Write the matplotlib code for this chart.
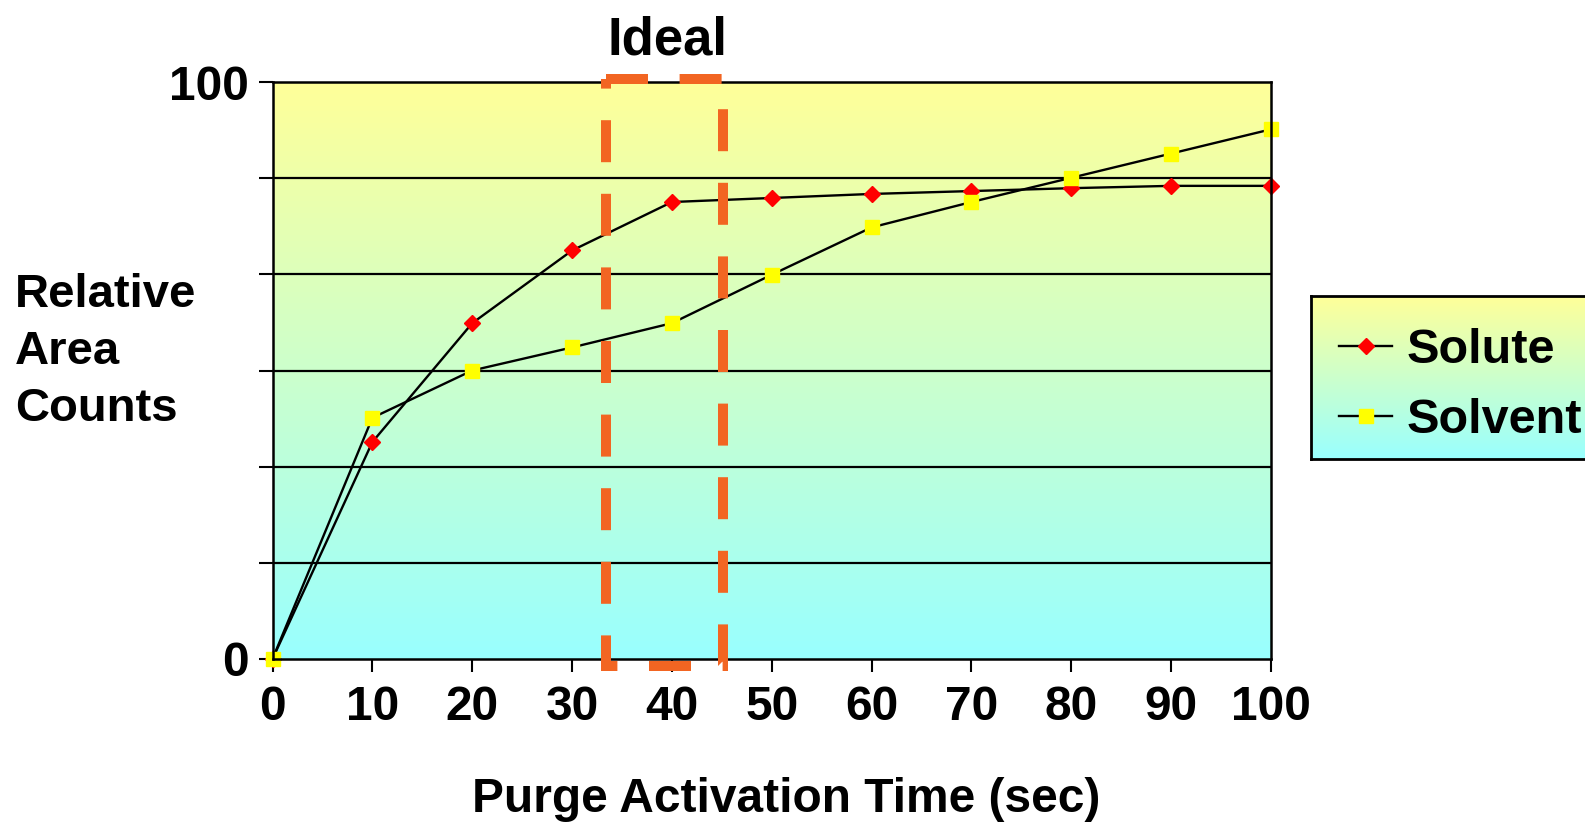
import numpy as np
import matplotlib
matplotlib.use("Agg")
import matplotlib.pyplot as plt
from matplotlib.lines import Line2D

# data
times = [0, 10, 20, 30, 40, 50, 60, 70, 80, 90, 100]
solute = [0, 37.6, 58.2, 70.8, 79.2, 79.9, 80.6, 81.1, 81.6, 82.0, 82.0]
solvent = [0, 41.8, 50.0, 54.0, 58.2, 66.6, 74.8, 79.2, 83.4, 87.6, 91.8]
x_ticks = [0, 10, 20, 30, 40, 50, 60, 70, 80, 90, 100]
y_ticks = [0, 100 / 6, 200 / 6, 300 / 6, 400 / 6, 500 / 6, 100]
y_labels = ["0", "", "", "", "", "", "100"]
ideal_window = [33.4, 45.15]  # seconds, dashed box

plt.rcParams['font.family'] = ['Liberation Sans', 'DejaVu Sans']
plt.rcParams['font.weight'] = 'bold'

W, H = 1585, 825
fig = plt.figure(figsize=(W / 100, H / 100), dpi=100)


def gradient_bg(ax, extent):
    grad = np.linspace(0, 1, 256).reshape(-1, 1)
    top = np.array([1.0, 1.0, 0.6])
    bottom = np.array([0.6, 1.0, 1.0])
    img = top * (1 - grad[..., None]) + bottom * grad[..., None]
    img = img.reshape(256, 1, 3)
    ax.imshow(img, extent=extent, aspect='auto', zorder=0, interpolation='bilinear')


left, right, top_px, bot_px = 272.5, 1271, 82, 659
ax = fig.add_axes([left / W, 1 - bot_px / H, (right - left) / W, (bot_px - top_px) / H])
gradient_bg(ax, [0, 100, 0, 100])
ax.set_xlim(0, 100)
ax.set_ylim(0, 100)

for y in y_ticks[1:-1]:
    ax.axhline(y, color='black', lw=1.6, zorder=1)

ax.plot(times, solute, color='black', lw=1.7, marker='D', markersize=8.5,
        markerfacecolor='red', markeredgecolor='red', zorder=3, clip_on=False)
ax.plot(times, solvent, color='black', lw=1.7, marker='s', markersize=9.5,
        markerfacecolor='yellow', markeredgecolor='yellow', zorder=4, clip_on=False)

# dashed "ideal" box
x0, x1 = ideal_window
y0, y1 = -1.2, 100.6
box = Line2D([x0, x1, x1, x0, x0], [y1, y1, y0, y0, y1], color='#F26522', lw=7.2,
             linestyle=(0, (4.2, 3.16)), solid_joinstyle='miter', dash_joinstyle='miter',
             zorder=6, clip_on=False)
ax.add_line(box)
ax.text(39.6, 1 + (82 - 40) / (bot_px - top_px), "Ideal", transform=ax.get_xaxis_transform(),
        ha='center', va='center', fontsize=38, fontweight='bold')

ax.set_xticks(x_ticks)
ax.set_xticklabels([str(t) for t in x_ticks], fontsize=34.5, fontweight='bold')
ax.set_yticks(y_ticks)
ax.set_yticklabels(y_labels, fontsize=34.5, fontweight='bold')
ax.tick_params(axis='x', direction='out', length=9, width=1.5, pad=10)
ax.tick_params(axis='y', direction='out', length=10, width=1.5, pad=7)
for s in ax.spines.values():
    s.set_linewidth(1.8)
    s.set_zorder(5)

fig.text(15 / W, 1 - 352 / H, "Relative\nArea\nCounts", ha='left', va='center',
         fontsize=34, fontweight='bold', linespacing=1.38)
fig.text(786 / W, 1 - 799 / H, "Purge Activation Time (sec)", ha='center', va='center',
         fontsize=34.5, fontweight='bold')

# legend box with its own gradient, running off the right edge
lx0, lx1, ly0, ly1 = 1311, 1620, 296, 459
lax = fig.add_axes([lx0 / W, 1 - ly1 / H, (lx1 - lx0) / W, (ly1 - ly0) / H])
gradient_bg(lax, [0, 1, 0, 1])
lax.set_xlim(0, 1)
lax.set_ylim(0, 1)
lax.set_xticks([])
lax.set_yticks([])
for s in lax.spines.values():
    s.set_linewidth(2)
handles = [
    Line2D([], [], color='black', lw=1.7, marker='D', markersize=8.5,
           markerfacecolor='red', markeredgecolor='red'),
    Line2D([], [], color='black', lw=1.7, marker='s', markersize=9.5,
           markerfacecolor='yellow', markeredgecolor='yellow'),
]
lax.legend(handles, ["Solute", "Solvent"], loc='center left',
           bbox_to_anchor=(28 / (lx1 - lx0), 0.45), borderaxespad=0, borderpad=0,
           frameon=False, handlelength=1.1, handletextpad=0.3,
           labelspacing=0.52, prop={'weight': 'bold', 'size': 35})

fig.savefig("out.png", dpi=100)
